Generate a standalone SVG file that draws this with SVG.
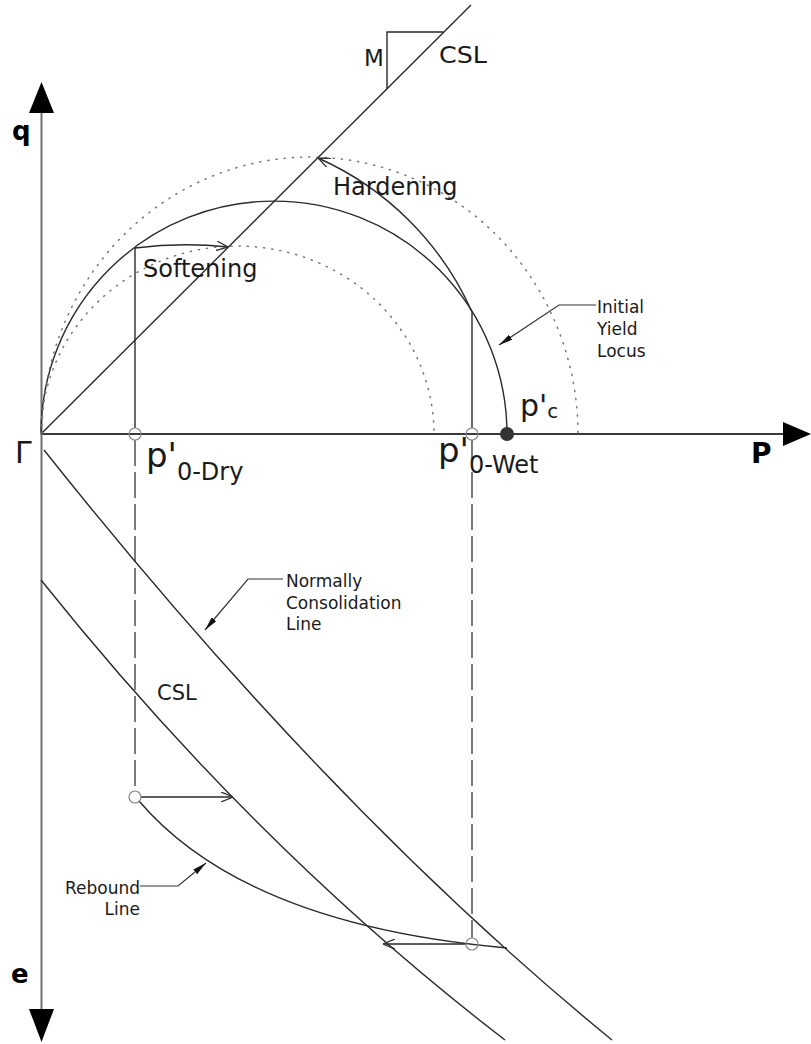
<svg xmlns="http://www.w3.org/2000/svg" width="811" height="1044" viewBox="0 0 811 1044">
<defs>
<style>
.ln{fill:none;stroke:#2a2a2a;stroke-width:1.4}
.axv{fill:none;stroke:#707070;stroke-width:2}
.axh{fill:none;stroke:#3a3a3a;stroke-width:2}
.dot{fill:none;stroke:#777;stroke-width:1.5;stroke-dasharray:1.2 7;stroke-linecap:round}
.dash{fill:none;stroke:#444;stroke-width:1.4;stroke-dasharray:26 6}
.pt{fill:none;stroke:#888;stroke-width:1.2}
.lead{fill:none;stroke:#333;stroke-width:1.2}
.t{font-family:"DejaVu Sans",Verdana,sans-serif;fill:#1a1a1a}
.b{font-weight:bold;fill:#000}
.head{fill:#000}
</style>
<marker id="open" viewBox="0 0 12 10" refX="12" refY="5" markerWidth="12" markerHeight="10" markerUnits="userSpaceOnUse" orient="auto"><path d="M0,0 L12,5 L0,10" fill="none" stroke="#333" stroke-width="1.3"/></marker>
<marker id="dart" viewBox="0 0 14 6" refX="14" refY="3" markerWidth="14" markerHeight="6" markerUnits="userSpaceOnUse" orient="auto"><path d="M0,0 L14,3 L0,6 z" fill="#111"/></marker>
</defs>
<rect width="811" height="1044" fill="#fff"/>

<g id="axes">
<path class="axv" d="M41.5,110 V1012"/>
<path class="axh" d="M41,434 H785"/>
<polygon class="head" points="41.5,82 29,113 54,113"/>
<polygon class="head" points="29,1009 54,1009 41.5,1042"/>
<polygon class="head" points="783,422 811,434 783,446"/>
</g>

<g id="connectors">
<path id="csl-upper" class="ln" d="M41,434 L471,5"/>
<path id="slope-M" class="ln" d="M387,89 V32 H443"/>
<path id="yield-locus" class="ln" d="M41,434 A233,233 0 0 1 507,434"/>
<path id="outer-locus" class="dot" d="M42,434 A268,277 0 0 1 578,434"/>
<path id="inner-locus" class="dot" d="M41,434 A196.5,188 0 0 1 434,434"/>
<path id="softening-arrow" class="ln" d="M135,248 Q182,242 228,247" marker-end="url(#open)"/>
<path id="hardening-arrow" class="ln" d="M472,312 A303,303 0 0 0 318,158" marker-end="url(#open)"/>
<path id="dry-vert" class="ln" d="M135,248 V428"/>
<path id="wet-vert" class="ln" d="M472,312 V428"/>
<path id="dry-dash" class="dash" d="M135,440 V791"/>
<path id="wet-dash" class="dash" d="M472,440 V938"/>
<path id="ncl" class="ln" d="M44,450 Q330,810 612,1040"/>
<path id="csl-lower" class="ln" d="M41,580 Q255,848 505,1040"/>
<path id="rebound" class="ln" d="M139,801 Q245,925 507,948"/>
<path id="dry-shift" class="ln" d="M141,797 H233" marker-end="url(#open)"/>
<path id="wet-shift" class="ln" d="M466,944 H383" marker-end="url(#open)"/>
<path id="lead-yield" class="lead" d="M596,305 H559 L499,345" marker-end="url(#dart)"/>
<path id="lead-ncl" class="lead" d="M283,579 H248 L205,630" marker-end="url(#dart)"/>
<path id="lead-rebound" class="lead" d="M140,886 H178 L206,863" marker-end="url(#dart)"/>
</g>

<g id="p0-dry"><circle class="pt" cx="135" cy="434" r="6"/><text class="t" x="146" y="467" font-size="34">p'<tspan font-size="24" dy="13">0-Dry</tspan></text></g>
<g id="p0-wet"><circle class="pt" cx="472" cy="434" r="6"/><text class="t" x="438" y="462" font-size="34">p'<tspan font-size="24" dy="11">0-Wet</tspan></text></g>
<g id="pc"><circle cx="507" cy="434" r="7" fill="#333"/><text class="t" x="520" y="416" font-size="30">p'<tspan font-size="20" dy="2">c</tspan></text></g>
<g id="dry-e"><circle class="pt" cx="135" cy="797" r="6"/></g>
<g id="wet-e"><circle class="pt" cx="472" cy="944" r="6"/></g>

<g id="labels">
<text class="t b" x="12" y="140" font-size="26">q</text>
<text class="t b" x="11" y="983" font-size="26">e</text>
<text class="t b" x="751" y="463" font-size="28">P</text>
<text class="t" x="15" y="463" font-size="30">Γ</text>
<text class="t" x="364" y="66" font-size="23">M</text>
<text class="t" x="439" y="63" font-size="23" textLength="48" lengthAdjust="spacingAndGlyphs">CSL</text>
<text class="t" x="333" y="195" font-size="24">Hardening</text>
<text class="t" x="143" y="277" font-size="24">Softening</text>
<text class="t" x="157" y="700" font-size="21">CSL</text>
<text class="t" x="597" y="313" font-size="17">Initial</text>
<text class="t" x="597" y="335" font-size="17">Yield</text>
<text class="t" x="597" y="357" font-size="17">Locus</text>
<text class="t" x="286" y="587" font-size="17">Normally</text>
<text class="t" x="286" y="609" font-size="17">Consolidation</text>
<text class="t" x="286" y="630" font-size="17">Line</text>
<text class="t" x="140" y="894" font-size="17" text-anchor="end">Rebound</text>
<text class="t" x="140" y="915" font-size="17" text-anchor="end">Line</text>
</g>
</svg>
